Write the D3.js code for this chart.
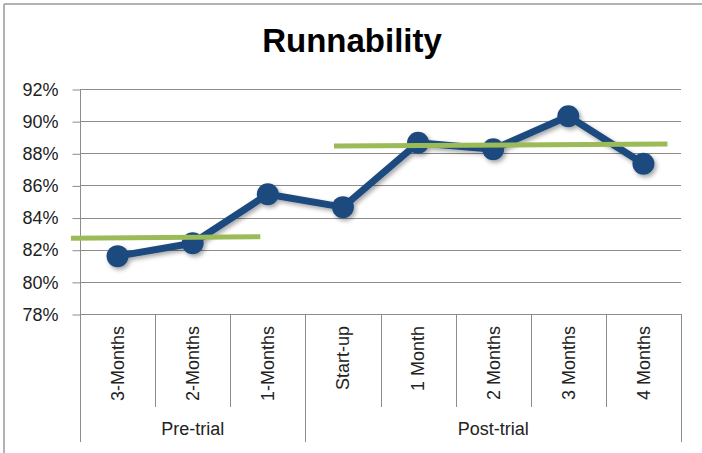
<!DOCTYPE html>
<html>
<head>
<meta charset="utf-8">
<script src="https://cdn.jsdelivr.net/npm/d3@7"></script>
<style>
  html, body { margin: 0; padding: 0; background: #fff; }
  svg { display: block; font-family: "Liberation Sans", Arial, sans-serif; }
</style>
</head>
<body>
<svg id="chart" width="702" height="453"></svg>
<script>
// ---- data ----
const categories = ["3-Months", "2-Months", "1-Months", "Start-up", "1 Month", "2 Months", "3 Months", "4 Months"];
const groups = ["Pre-trial", "Post-trial"];
const groupSizes = [3, 5];
const runnability = [0.816, 0.824, 0.8545, 0.8465, 0.8865, 0.8825, 0.903, 0.8735];
const yTicks = [0.78, 0.80, 0.82, 0.84, 0.86, 0.88, 0.90, 0.92];
// average lines: [start index, end index] in category units, [start value, end value]
const preAvgPos = [-0.62, 1.9];
const preAvgVal = [0.8271, 0.8281];
const postAvgPos = [2.88, 7.32];
const postAvgVal = [0.8845, 0.8858];

(function () {
// ---- layout ----
const svg = d3.select("#chart");
const W = 702, H = 453;
const pLeft = 80, pRight = 681, pTop = 89, pBottom = 314;
const catLabelBottom = 407, groupBottom = 442;

const x = d3.scaleBand().domain(d3.range(categories.length)).range([pLeft, pRight]).paddingInner(0).paddingOuter(0);
const xi = d3.scaleLinear().domain([-0.5, categories.length - 0.5]).range([pLeft, pRight]);
const y = d3.scaleLinear().domain([0.78, 0.92]).range([pBottom, pTop]);

const gridColor = "#8c8c8c";

// frame border (left + top)
svg.append("line").attr("x1", 4).attr("x2", 4).attr("y1", 4).attr("y2", H).attr("stroke", "#9a9a9a").attr("stroke-width", 1.5);
svg.append("line").attr("x1", 4).attr("x2", W).attr("y1", 4).attr("y2", 4).attr("stroke", "#9a9a9a").attr("stroke-width", 1.5);

// defs: shadow
const defs = svg.append("defs");
const f = defs.append("filter").attr("id", "shadow").attr("x", "-50%").attr("y", "-50%").attr("width", "200%").attr("height", "200%");
f.append("feDropShadow").attr("dx", 2).attr("dy", 2.5).attr("stdDeviation", 2).attr("flood-color", "#000").attr("flood-opacity", 0.35);

// title
svg.append("text").attr("x", 352).attr("y", 52).attr("text-anchor", "middle")
  .attr("font-size", 33).attr("font-weight", "bold").attr("fill", "#000").text("Runnability");

// gridlines
svg.append("g").selectAll("line").data(yTicks).join("line")
  .attr("x1", pLeft).attr("x2", pRight)
  .attr("y1", d => Math.round(y(d)) + 0.5).attr("y2", d => Math.round(y(d)) + 0.5)
  .attr("stroke", gridColor).attr("stroke-width", 1);

// y axis
const yAxis = d3.axisLeft(y).tickValues(yTicks).tickFormat(d3.format(".0%")).tickSize(8).tickPadding(14);
const gy = svg.append("g").attr("transform", `translate(${pLeft + 0.5},0.5)`).call(yAxis);
gy.select(".domain").attr("stroke", gridColor).attr("d", `M0,${pTop - 0.5}V${pBottom - 0.5}`);
gy.selectAll(".tick line").attr("stroke", gridColor);
gy.selectAll(".tick text").attr("font-size", 18).attr("fill", "#222").attr("font-family", "'Liberation Sans', Arial, sans-serif");

// category separators
const bounds = d3.range(categories.length + 1).map(i => i === categories.length ? pRight : x(i));
const groupStarts = [0];
groupSizes.reduce((acc, s) => { acc += s; groupStarts.push(acc); return acc; }, 0);
svg.append("g").selectAll("line").data(bounds).join("line")
  .attr("x1", d => Math.round(d) + 0.5).attr("x2", d => Math.round(d) + 0.5)
  .attr("y1", pBottom)
  .attr("y2", (d, i) => groupStarts.includes(i) ? groupBottom : catLabelBottom)
  .attr("stroke", gridColor).attr("stroke-width", 1);

// category labels
svg.append("g").selectAll("text").data(categories).join("text")
  .attr("transform", (d, i) => `translate(${x(i) + x.bandwidth() / 2},326) rotate(-90)`)
  .attr("text-anchor", "end").attr("dy", "0.35em")
  .attr("font-size", 18).attr("fill", "#222").text(d => d);

// group labels
svg.append("g").selectAll("text").data(groups).join("text")
  .attr("x", (d, i) => (bounds[groupStarts[i]] + bounds[groupStarts[i + 1]]) / 2)
  .attr("y", 435).attr("text-anchor", "middle")
  .attr("font-size", 18).attr("fill", "#222").text(d => d);

// main series
const line = d3.line().x((d, i) => x(i) + x.bandwidth() / 2).y(d => y(d));
const sg = svg.append("g").attr("filter", "url(#shadow)");
sg.append("path").datum(runnability).attr("d", line)
  .attr("fill", "none").attr("stroke", "#1f4a7e").attr("stroke-width", 7).attr("stroke-linejoin", "round");
sg.selectAll("circle").data(runnability).join("circle")
  .attr("cx", (d, i) => x(i) + x.bandwidth() / 2).attr("cy", d => y(d)).attr("r", 11)
  .attr("fill", "#1f4a7e");

// average lines
[[preAvgPos, preAvgVal], [postAvgPos, postAvgVal]].forEach(([p, v]) => {
  svg.append("line")
    .attr("x1", xi(p[0])).attr("x2", xi(p[1]))
    .attr("y1", y(v[0])).attr("y2", y(v[1]))
    .attr("stroke", "#9bbb59").attr("stroke-width", 5);
});
})();
</script>
</body>
</html>
